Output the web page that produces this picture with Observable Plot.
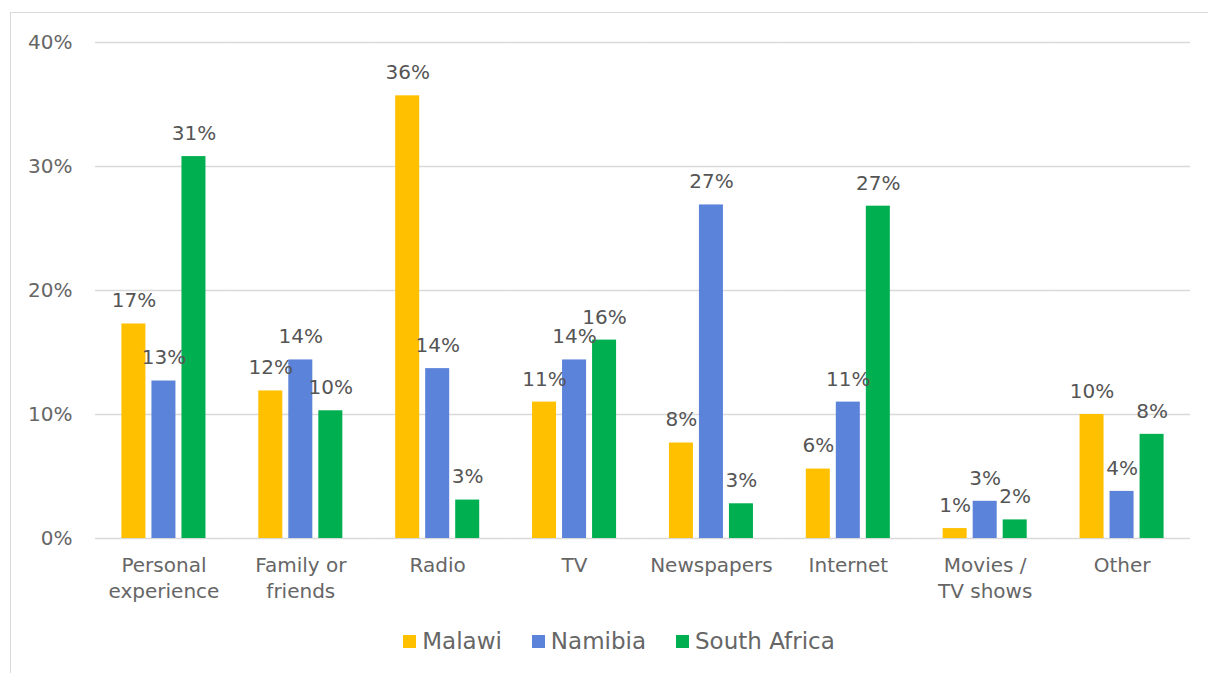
<!DOCTYPE html>
<html>
<head>
<meta charset="utf-8">
<script src="https://cdn.jsdelivr.net/npm/d3@7"></script>
<script src="https://cdn.jsdelivr.net/npm/@observablehq/plot@0.6"></script>
<style>
  html, body { margin: 0; padding: 0; background: #fff; overflow: hidden; }
  body { width: 1208px; height: 673px; position: relative; font-family: "DejaVu Sans", sans-serif; }
  #frame { position: absolute; left: 10px; top: 12px; width: 1220px; height: 700px; border: 1.5px solid #d9d9d9; box-sizing: border-box; }
  #chart { position: absolute; left: 0; top: 0; }
  #legend { position: absolute; left: 15px; top: 628px; width: 1208px; display: flex; justify-content: center; gap: 30px; font-size: 23px; color: #666; }
  #legend .item { display: flex; align-items: center; gap: 6px; }
  #legend .sw { width: 13px; height: 13px; display: inline-block; }
</style>
</head>
<body>
<div id="frame"></div>
<div id="chart"></div>
<div id="legend"></div>
<script>
const categories = ["Personal experience", "Family or friends", "Radio", "TV", "Newspapers", "Internet", "Movies / TV shows", "Other"];
const categoryLabels = ["Personal\nexperience", "Family or\nfriends", "Radio", "TV", "Newspapers", "Internet", "Movies /\nTV shows", "Other"];
const countries = ["Malawi", "Namibia", "South Africa"];
const colors = ["#FFC000", "#5B83D9", "#00B050"];
const malawi = [17.3, 11.9, 35.7, 11.0, 7.7, 5.6, 0.8, 10.0];
const namibia = [12.7, 14.4, 13.7, 14.4, 26.9, 11.0, 3.0, 3.8];
const southAfrica = [30.8, 10.3, 3.1, 16.0, 2.8, 26.8, 1.5, 8.4];
const yTicks = [0, 10, 20, 30, 40];

const series = [malawi, namibia, southAfrica];
const data = [];
categories.forEach((c, i) => {
  countries.forEach((k, j) => data.push({category: c, country: k, value: series[j][i]}));
});
const labelOf = new Map(categories.map((c, i) => [c, categoryLabels[i]]));

const chart = Plot.plot({
  width: 1208,
  height: 615,
  marginLeft: 95,
  marginRight: 18,
  marginTop: 42,
  marginBottom: 77,
  style: {fontFamily: "'DejaVu Sans', sans-serif", background: "transparent"},
  fx: {domain: categories, padding: 0, round: false, axis: null},
  x: {domain: countries, paddingInner: 0.2, paddingOuter: 0.88, round: false, axis: null},
  y: {domain: [0, 40], axis: null, label: null},
  color: {domain: countries, range: colors},
  marks: [
    Plot.ruleY(yTicks, {stroke: "#d9d9d9", strokeWidth: 1.5}),
    Plot.barY(data, {fx: "category", x: "country", y: "value", fill: "country"}),
    Plot.text(data, {fx: "category", x: "country", y: "value", text: d => Math.round(d.value) + "%", dy: -23, fontSize: 20, fill: "#555"}),
    Plot.text(categories, {fx: d => d, text: d => labelOf.get(d), frameAnchor: "bottom", lineAnchor: "top", dy: 15, fontSize: 20, lineHeight: 1.3, fill: "#666"}),
    Plot.axisY(yTicks, {tickSize: 0, tickPadding: 23, tickFormat: d => d + "%", fontSize: 20, fill: "#666", label: null, facetAnchor: "left"})
  ]
});
document.getElementById("chart").appendChild(chart);

const legend = document.getElementById("legend");
countries.forEach((k, j) => {
  const item = document.createElement("div");
  item.className = "item";
  const sw = document.createElement("span");
  sw.className = "sw";
  sw.style.background = colors[j];
  const t = document.createElement("span");
  t.textContent = k;
  item.appendChild(sw);
  item.appendChild(t);
  legend.appendChild(item);
});
</script>
</body>
</html>
